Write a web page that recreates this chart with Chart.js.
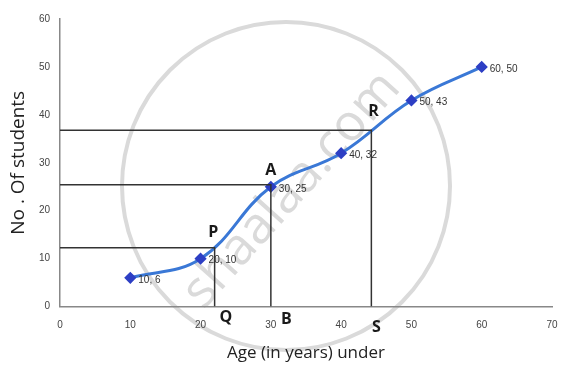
<!DOCTYPE html>
<html>
<head>
<meta charset="utf-8">
<script src="https://cdn.jsdelivr.net/npm/chart.js@4/dist/chart.umd.min.js"></script>
<style>
  html, body { margin: 0; padding: 0; background: #fff; }
</style>
</head>
<body>
<canvas id="miGrafico" width="572" height="368"></canvas>
<script>
// data
const edades = [10, 20, 30, 40, 50, 60];
const alumnos = [6, 10, 25, 32, 43, 50];
const etiquetas = ['10, 6', '20, 10', '30, 25', '40, 32', '50, 43', '60, 50'];

// reading lines P/Q, A/B, R/S
const lineaP = [{x: 0, y: 12.3}, {x: 22, y: 12.3}, {x: 22, y: 0}];
const lineaA = [{x: 0, y: 25.4}, {x: 30, y: 25.4}, {x: 30, y: 0}];
const lineaR = [{x: 0, y: 36.8}, {x: 44.3, y: 36.8}, {x: 44.3, y: 0}];

const letras = [
  {t: 'P', x: 21.8, y: 15.5},
  {t: 'A', x: 30, y: 28.4},
  {t: 'R', x: 44.6, y: 40.8},
  {t: 'Q', x: 23.6, y: -2.3},
  {t: 'B', x: 32.2, y: -2.6},
  {t: 'S', x: 45, y: -4.3}
];

const marcaAgua = {
  id: 'marcaAgua',
  beforeDraw(chart) {
    const ctx = chart.ctx;
    ctx.save();
    ctx.fillStyle = '#fff';
    ctx.fillRect(0, 0, chart.width, chart.height);
    ctx.strokeStyle = '#dadada';
    ctx.lineWidth = 4;
    ctx.beginPath();
    ctx.arc(286, 186, 164, 0, Math.PI * 2);
    ctx.stroke();
    ctx.translate(292, 190);
    ctx.rotate(-0.84);
    ctx.fillStyle = '#dadada';
    ctx.font = '51px "Open Sans", sans-serif';
    ctx.textAlign = 'center';
    ctx.textBaseline = 'middle';
    ctx.fillText('shaalaa.com', 0, 0);
    ctx.restore();
  }
};

const textos = {
  id: 'textos',
  afterDraw(chart) {
    const ctx = chart.ctx;
    const sx = chart.scales.x, sy = chart.scales.y;
    ctx.save();
    ctx.fillStyle = '#333';
    ctx.font = '10px "Liberation Sans", sans-serif';
    ctx.textBaseline = 'middle';
    edades.forEach((e, i) => {
      ctx.fillText(etiquetas[i], sx.getPixelForValue(e) + 8, sy.getPixelForValue(alumnos[i]) + 2);
    });
    ctx.font = 'bold 16px "Open Sans", sans-serif';
    ctx.fillStyle = '#1a1a1a';
    ctx.textAlign = 'center';
    letras.forEach(l => {
      ctx.fillText(l.t, sx.getPixelForValue(l.x), sy.getPixelForValue(l.y));
    });
    ctx.restore();
  }
};

const lineaNegra = datos => ({
  data: datos,
  borderColor: '#333',
  borderWidth: 1.5,
  pointRadius: 0,
  tension: 0,
  fill: false
});

new Chart(document.getElementById('miGrafico'), {
  type: 'line',
  data: {
    datasets: [
      lineaNegra(lineaP),
      lineaNegra(lineaA),
      lineaNegra(lineaR),
      {
        data: edades.map((e, i) => ({x: e, y: alumnos[i]})),
        borderColor: '#3a78d6',
        borderWidth: 3,
        tension: 0.4,
        pointStyle: 'rectRot',
        pointRadius: 4,
        pointBackgroundColor: '#2d3fc4',
        pointBorderColor: '#2d3fc4',
        fill: false
      }
    ]
  },
  options: {
    responsive: false,
    animation: false,
    layout: { padding: { top: 19, right: 20, bottom: 5, left: 7 } },
    plugins: { legend: { display: false }, tooltip: { enabled: false } },
    scales: {
      x: {
        type: 'linear', min: 0, max: 70,
        ticks: { stepSize: 10, padding: 9, color: '#444', font: { size: 10, family: 'Liberation Sans' } },
        grid: { display: false, tickLength: 4 },
        border: { color: '#888', width: 1.5 },
        title: { display: true, text: 'Age (in years) under', color: '#222', font: { size: 17, family: 'Open Sans' }, padding: { top: 2, bottom: 0 } }
      },
      y: {
        min: 0, max: 60,
        ticks: { stepSize: 10, padding: 6, color: '#444', font: { size: 10, family: 'Liberation Sans' } },
        grid: { display: false, tickLength: 4 },
        border: { color: '#888', width: 1.5 },
        title: { display: true, text: 'No . Of students', color: '#222', font: { size: 19, family: 'Open Sans' }, padding: { top: 0, bottom: 0 } },
        afterFit(s) { s.width = 53; }
      }
    }
  },
  plugins: [marcaAgua, textos]
});
</script>
</body>
</html>
